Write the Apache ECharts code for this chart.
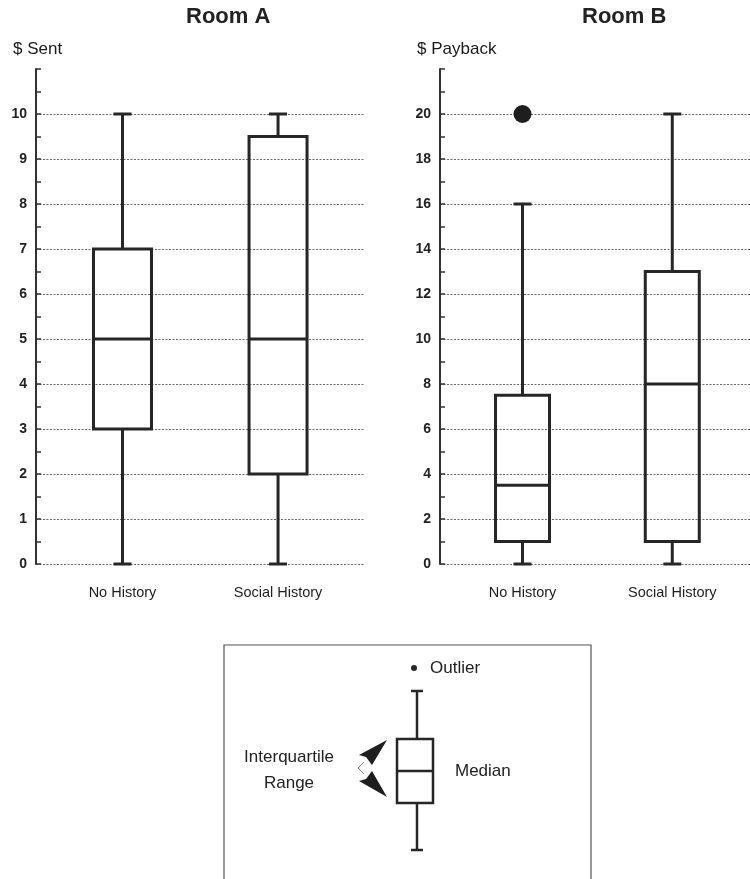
<!DOCTYPE html>
<html>
<head>
<meta charset="utf-8">
<script src="https://cdn.jsdelivr.net/npm/echarts@6/dist/echarts.min.js"></script>
<style>
  html, body { margin: 0; padding: 0; background: #ffffff; }
  #chart { width: 750px; height: 879px; }
</style>
</head>
<body>
<div id="chart"></div>
<script>
// ---- data ----
const categories = ['No History', 'Social History'];
const categoryPos = [1, 2];

const roomAMin    = [0, 0];
const roomAQ1     = [3, 2];
const roomAMedian = [5, 5];
const roomAQ3     = [7, 9.5];
const roomAMax    = [10, 10];

const roomBMin    = [0, 0];
const roomBQ1     = [1, 1];
const roomBMedian = [3.5, 8];
const roomBQ3     = [7.5, 13];
const roomBMax    = [16, 20];
const roomBOutlierCategory = [1];
const roomBOutlierValue    = [20];

const roomATicks = [0, 1, 2, 3, 4, 5, 6, 7, 8, 9, 10];
const roomBTicks = [0, 2, 4, 6, 8, 10, 12, 14, 16, 18, 20];

// ---- build ----
function boxRows(mins, q1s, meds, q3s, maxs) {
  return categoryPos.map((p, i) => [p, mins[i], q1s[i], meds[i], q3s[i], maxs[i]]);
}
const INK = '#262626';

function makeRender(halfW, capHalf, lw) {
  return function (params, api) {
    const x = api.value(0);
    const pMin = api.coord([x, api.value(1)]);
    const pQ1 = api.coord([x, api.value(2)]);
    const pMed = api.coord([x, api.value(3)]);
    const pQ3 = api.coord([x, api.value(4)]);
    const pMax = api.coord([x, api.value(5)]);
    const cx = pMin[0];
    const st = { stroke: INK, lineWidth: lw, fill: null };
    return {
      type: 'group',
      children: [
        { type: 'line', shape: { x1: cx, y1: pMin[1], x2: cx, y2: pQ1[1] }, style: st },
        { type: 'line', shape: { x1: cx, y1: pQ3[1], x2: cx, y2: pMax[1] }, style: st },
        { type: 'line', shape: { x1: cx - capHalf, y1: pMin[1], x2: cx + capHalf, y2: pMin[1] }, style: st },
        { type: 'line', shape: { x1: cx - capHalf, y1: pMax[1], x2: cx + capHalf, y2: pMax[1] }, style: st },
        { type: 'rect', shape: { x: cx - halfW, y: pQ3[1], width: 2 * halfW, height: pQ1[1] - pQ3[1] },
          style: { stroke: INK, lineWidth: lw, fill: 'rgba(0,0,0,0)' } },
        { type: 'line', shape: { x1: cx - halfW, y1: pMed[1], x2: cx + halfW, y2: pMed[1] }, style: st }
      ]
    };
  };
}

function yAxisCfg(gridIndex, max, interval, ticks) {
  return {
    type: 'value', gridIndex, min: 0, max, interval,
    axisLine: { show: true, lineStyle: { color: '#333', width: 2 } },
    axisTick: { show: true, inside: true, length: 5, lineStyle: { color: '#333', width: 1.5 } },
    minorTick: { show: true, splitNumber: 2, length: 5, lineStyle: { color: '#333', width: 1.5 } },
    splitLine: { show: true, showMaxLine: false, lineStyle: { color: '#6a6a6a', width: 1, type: [2, 1.5] } },
    axisLabel: {
      margin: 9, color: '#222', fontSize: 14, fontWeight: 'bold', fontFamily: 'Liberation Sans',
      showMaxLabel: false,
      formatter: v => (ticks.indexOf(v) >= 0 ? String(v) : '')
    }
  };
}
function xAxisCfg(gridIndex, min, max) {
  return {
    type: 'value', gridIndex, min, max,
    axisLine: { show: false }, axisTick: { show: false }, splitLine: { show: false },
    axisLabel: {
      customValues: categoryPos, margin: 21, color: '#1e1e1e', fontSize: 14.5, fontFamily: 'Liberation Sans',
      formatter: v => categories[Math.round(v) - 1] || ''
    }
  };
}

const option = {
  backgroundColor: '#ffffff',
  animation: false,
  grid: [
    { left: 36, top: 69, width: 329, height: 495 },
    { left: 440, top: 69, width: 310, height: 495 }
  ],
  xAxis: [xAxisCfg(0, 0.444, 2.559), xAxisCfg(1, 0.449, 2.519)],
  yAxis: [yAxisCfg(0, 11, 1, roomATicks), yAxisCfg(1, 22, 2, roomBTicks)],
  series: [
    {
      type: 'custom', xAxisIndex: 0, yAxisIndex: 0, clip: false,
      renderItem: makeRender(29, 9, 3),
      encode: { x: 0, y: [1, 2, 3, 4, 5] },
      data: boxRows(roomAMin, roomAQ1, roomAMedian, roomAQ3, roomAMax)
    },
    {
      type: 'custom', xAxisIndex: 1, yAxisIndex: 1, clip: false,
      renderItem: makeRender(27, 9, 3),
      encode: { x: 0, y: [1, 2, 3, 4, 5] },
      data: boxRows(roomBMin, roomBQ1, roomBMedian, roomBQ3, roomBMax)
    },
    {
      type: 'scatter', xAxisIndex: 1, yAxisIndex: 1, symbol: 'circle', symbolSize: 18,
      itemStyle: { color: '#1e1e1e', opacity: 1 }, z: 5,
      data: roomBOutlierCategory.map((c, i) => [c, roomBOutlierValue[i]])
    }
  ],
  graphic: [
    { type: 'text', left: 186, top: 6, style: { text: 'Room A', font: 'bold 22px "Liberation Sans"', fill: '#222' } },
    { type: 'text', left: 582, top: 6, style: { text: 'Room B', font: 'bold 22px "Liberation Sans"', fill: '#222' } },
    { type: 'text', left: 13, top: 41, style: { text: '$ Sent', font: '17px "Liberation Sans"', fill: '#1a1a1a' } },
    { type: 'text', left: 417, top: 41, style: { text: '$ Payback', font: '17px "Liberation Sans"', fill: '#1a1a1a' } },
    // legend box
    { type: 'rect', shape: { x: 224, y: 645, width: 367, height: 260 }, style: { stroke: '#555', lineWidth: 1.2, fill: 'rgba(0,0,0,0)' } },
    { type: 'circle', shape: { cx: 414, cy: 668, r: 3 }, style: { fill: INK } },
    { type: 'text', x: 430, y: 668, style: { text: 'Outlier', font: '17px "Liberation Sans"', fill: '#222', verticalAlign: 'middle' } },
    { type: 'line', shape: { x1: 417, y1: 691, x2: 417, y2: 739 }, style: { stroke: INK, lineWidth: 2.5 } },
    { type: 'line', shape: { x1: 411, y1: 691, x2: 423, y2: 691 }, style: { stroke: INK, lineWidth: 2.5 } },
    { type: 'rect', shape: { x: 397, y: 739, width: 36, height: 64 }, style: { stroke: INK, lineWidth: 2.5, fill: 'rgba(0,0,0,0)' } },
    { type: 'line', shape: { x1: 397, y1: 771, x2: 433, y2: 771 }, style: { stroke: INK, lineWidth: 2.5 } },
    { type: 'line', shape: { x1: 417, y1: 803, x2: 417, y2: 850 }, style: { stroke: INK, lineWidth: 2.5 } },
    { type: 'line', shape: { x1: 411, y1: 850, x2: 423, y2: 850 }, style: { stroke: INK, lineWidth: 2.5 } },
    { type: 'text', x: 289, y: 757, style: { text: 'Interquartile', font: '17px "Liberation Sans"', fill: '#222', align: 'center', verticalAlign: 'middle' } },
    { type: 'text', x: 289, y: 783, style: { text: 'Range', font: '17px "Liberation Sans"', fill: '#222', align: 'center', verticalAlign: 'middle' } },
    { type: 'text', x: 455, y: 771, style: { text: 'Median', font: '17px "Liberation Sans"', fill: '#222', verticalAlign: 'middle' } },
    { type: 'polygon', shape: { points: [[387, 740], [359, 755], [366, 757], [372, 765]] }, style: { fill: '#1e1e1e' } },
    { type: 'polygon', shape: { points: [[387, 797], [359, 781], [366, 779], [372, 771]] }, style: { fill: '#1e1e1e' } },
    { type: 'polyline', shape: { points: [[364, 762], [358, 768], [364, 774]] }, style: { stroke: '#888', lineWidth: 1, fill: null } }
  ]
};

const chart = echarts.init(document.getElementById('chart'), null, { renderer: 'canvas' });
chart.setOption(option);
</script>
</body>
</html>
